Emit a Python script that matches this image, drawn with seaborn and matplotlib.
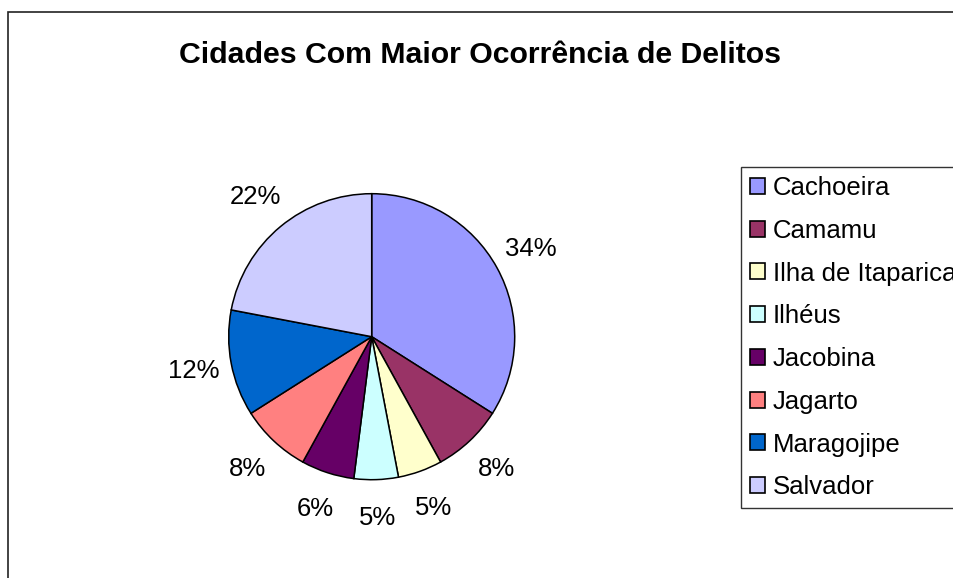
import matplotlib
matplotlib.use("Agg")
import matplotlib.pyplot as plt
import seaborn as sns
from matplotlib.patches import Rectangle

cities = ["Cachoeira", "Camamu", "Ilha de Itaparica", "Ilhéus",
          "Jacobina", "Jagarto", "Maragojipe", "Salvador"]
shares = [34, 8, 5, 5, 6, 8, 12, 22]
colors = ["#9999FF", "#993366", "#FFFFCC", "#CCFFFF",
          "#660066", "#FF8080", "#0066CC", "#CCCCFF"]
title = "Cidades Com Maior Ocorrência de Delitos"

sns.set_theme(style="white")
plt.rcParams["font.family"] = ["Liberation Sans", "DejaVu Sans"]
plt.rcParams["text.color"] = "black"

W, H = 954, 578
fig = plt.figure(figsize=(W / 100, H / 100), dpi=100)
fig.patch.set_facecolor("white")

# outer chart frame (continues past right/bottom edges)
fig.patches.append(Rectangle((8 / W, -0.1), 1.2, 1 - 12 / H + 0.1,
                             transform=fig.transFigure, fill=False,
                             edgecolor="#222222", linewidth=1.2, zorder=0))

cx, cy, r = 371.7, 336.7, 143
ax = fig.add_axes([(cx - r) / W, (H - cy - r) / H, 2 * r / W, 2 * r / H])
wedges, texts, autotexts = ax.pie(
    shares, colors=colors, startangle=90, counterclock=False,
    autopct="%1.0f%%", pctdistance=1.27,
    wedgeprops=dict(edgecolor="black", linewidth=1.1),
    textprops=dict(fontsize=18.5, color="black"))
ax.set_xlim(-1, 1)
ax.set_ylim(-1, 1)
ax.set_aspect("equal")
ax.axis("off")

fig.text(480 / W, 1 - 55 / H, title, ha="center", va="center",
         fontsize=21.8, fontweight="bold", color="black")

leg = fig.legend(wedges, cities, loc="upper left",
                 bbox_to_anchor=(741 / W, 1 - 167 / H),
                 bbox_transform=fig.transFigure,
                 fontsize=18.5, frameon=True, fancybox=False,
                 edgecolor="black", handlelength=0.58, handleheight=0.58,
                 handletextpad=0.32, labelspacing=0.73, borderpad=0.35,
                 borderaxespad=0, labelcolor="black")
leg.get_frame().set_linewidth(1.0)
for h in leg.legend_handles:
    h.set_edgecolor("black")
    h.set_linewidth(1.2)

fig.savefig("out.png", dpi=100)
